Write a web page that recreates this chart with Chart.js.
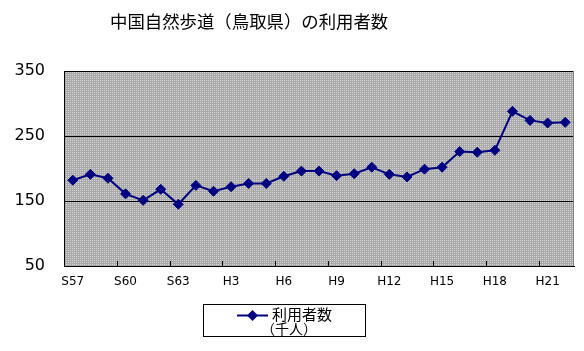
<!DOCTYPE html>
<html>
<head>
<meta charset="utf-8">
<script src="https://cdn.jsdelivr.net/npm/chart.js@4"></script>
<style>
  html, body { margin: 0; padding: 0; background: #fff; }
  #wrap { position: relative; width: 584px; height: 351px; }
  #c { position: absolute; left: 0; top: 0; }
  #title { position: absolute; left: 110px; top: 8px; font: 17.4px "Noto Sans CJK JP"; color: #000; white-space: nowrap; }
</style>
</head>
<body>
<div id="wrap">
  <canvas id="c" width="584" height="351"></canvas>
  <div id="title">中国自然歩道（鳥取県）の利用者数</div>
</div>
<script>
// 年度 (S57〜H22)
const years = ['S57','S58','S59','S60','S61','S62','S63',
  'H1','H2','H3','H4','H5','H6','H7','H8','H9','H10','H11','H12',
  'H13','H14','H15','H16','H17','H18','H19','H20','H21','H22'];
// 利用者数 (千人)
const users = [182,191,185,161,151,168,145,174,165,172,177,177,188,196,196,
  189,192,202,191,187,199,202,226,225,228,288,274,270,271];
const yTicks = [50, 150, 250, 350];
const legendLines = ['利用者数', '（千人）'];
const navy = '#000080';

// 網掛け背景パターン
function makePattern(ctx) {
  const p = document.createElement('canvas');
  p.width = 2; p.height = 2;
  const g = p.getContext('2d');
  g.fillStyle = '#a9a9a9'; g.fillRect(0, 0, 2, 2);
  g.fillStyle = '#d6d6d6'; g.fillRect(0, 0, 1, 1);
  return ctx.createPattern(p, 'repeat');
}

const plotBg = {
  id: 'plotBg',
  beforeDraw(chart) {
    const { ctx, chartArea: a } = chart;
    ctx.save();
    ctx.fillStyle = makePattern(ctx);
    ctx.fillRect(a.left, a.top, a.right - a.left, a.bottom - a.top);
    ctx.restore();
  },
  beforeDatasetsDraw(chart) {
    const { ctx, chartArea: a, scales: { x } } = chart;
    ctx.save();
    // 右端の枠
    ctx.strokeStyle = '#808080'; ctx.lineWidth = 1;
    ctx.beginPath(); ctx.moveTo(a.right - 0.5, a.top); ctx.lineTo(a.right - 0.5, a.bottom); ctx.stroke();
    // 内向きの目盛り (3年ごと)
    const step = x.getPixelForValue(1) - x.getPixelForValue(0);
    ctx.strokeStyle = '#000';
    ctx.beginPath();
    years.forEach((y, i) => {
      if (i === 0 || i % 3) return;
      const px = Math.round(x.getPixelForValue(i) - step / 2) + 0.5;
      ctx.moveTo(px, a.bottom); ctx.lineTo(px, a.bottom - 5);
    });
    ctx.stroke();
    ctx.restore();
  }
};

// 凡例 (2行)
const boxLegend = {
  id: 'boxLegend',
  afterDraw(chart) {
    const ctx = chart.ctx;
    ctx.save();
    ctx.fillStyle = '#fff';
    ctx.fillRect(203, 304, 162, 32);
    ctx.strokeStyle = '#000'; ctx.lineWidth = 1;
    ctx.strokeRect(203.5, 304.5, 162, 32);
    ctx.strokeStyle = navy; ctx.lineWidth = 2;
    ctx.beginPath(); ctx.moveTo(237, 315.5); ctx.lineTo(268, 315.5); ctx.stroke();
    ctx.fillStyle = navy;
    ctx.beginPath();
    ctx.moveTo(252.5, 310); ctx.lineTo(258, 315.5); ctx.lineTo(252.5, 321); ctx.lineTo(247, 315.5);
    ctx.closePath(); ctx.fill();
    ctx.fillStyle = '#000';
    ctx.textBaseline = 'middle';
    ctx.font = '15px "Noto Sans CJK JP"';
    ctx.fillText(legendLines[0], 272, 314);
    ctx.font = '14px "Noto Sans CJK JP"';
    ctx.fillText(legendLines[1], 261, 329);
    ctx.restore();
  }
};

new Chart(document.getElementById('c'), {
  type: 'line',
  data: {
    labels: years,
    datasets: [{
      label: legendLines.join(''),
      data: users,
      borderColor: navy,
      backgroundColor: navy,
      borderWidth: 2,
      tension: 0,
      pointStyle: 'rectRot',
      pointRadius: 5,
      pointBorderWidth: 1,
      pointBackgroundColor: navy,
      pointBorderColor: navy
    }]
  },
  options: {
    responsive: false,
    animation: false,
    events: [],
    layout: { padding: { top: 71, right: 10, left: 0, bottom: 0 } },
    plugins: { legend: { display: false }, tooltip: { enabled: false }, title: { display: false } },
    scales: {
      x: {
        offset: true,
        grid: { display: false, drawTicks: false },
        border: { display: true, color: '#000', width: 1 },
        ticks: {
          autoSkip: false, maxRotation: 0, padding: 9, color: '#000',
          font: { family: 'DejaVu Sans', size: 12 },
          callback: (v, i) => (i % 3 === 0 ? years[i] : '')
        },
        afterFit: s => { s.height = 85; }
      },
      y: {
        min: 50, max: 350,
        afterBuildTicks: s => { s.ticks = yTicks.map(v => ({ value: v })); },
        grid: { color: '#000', lineWidth: 1, drawTicks: false },
        border: { display: true, color: '#000', width: 1 },
        ticks: { padding: 19, color: '#000', font: { family: 'DejaVu Sans', size: 16 } },
        afterFit: s => { s.width = 64; }
      }
    }
  },
  plugins: [plotBg, boxLegend]
});
</script>
</body>
</html>
